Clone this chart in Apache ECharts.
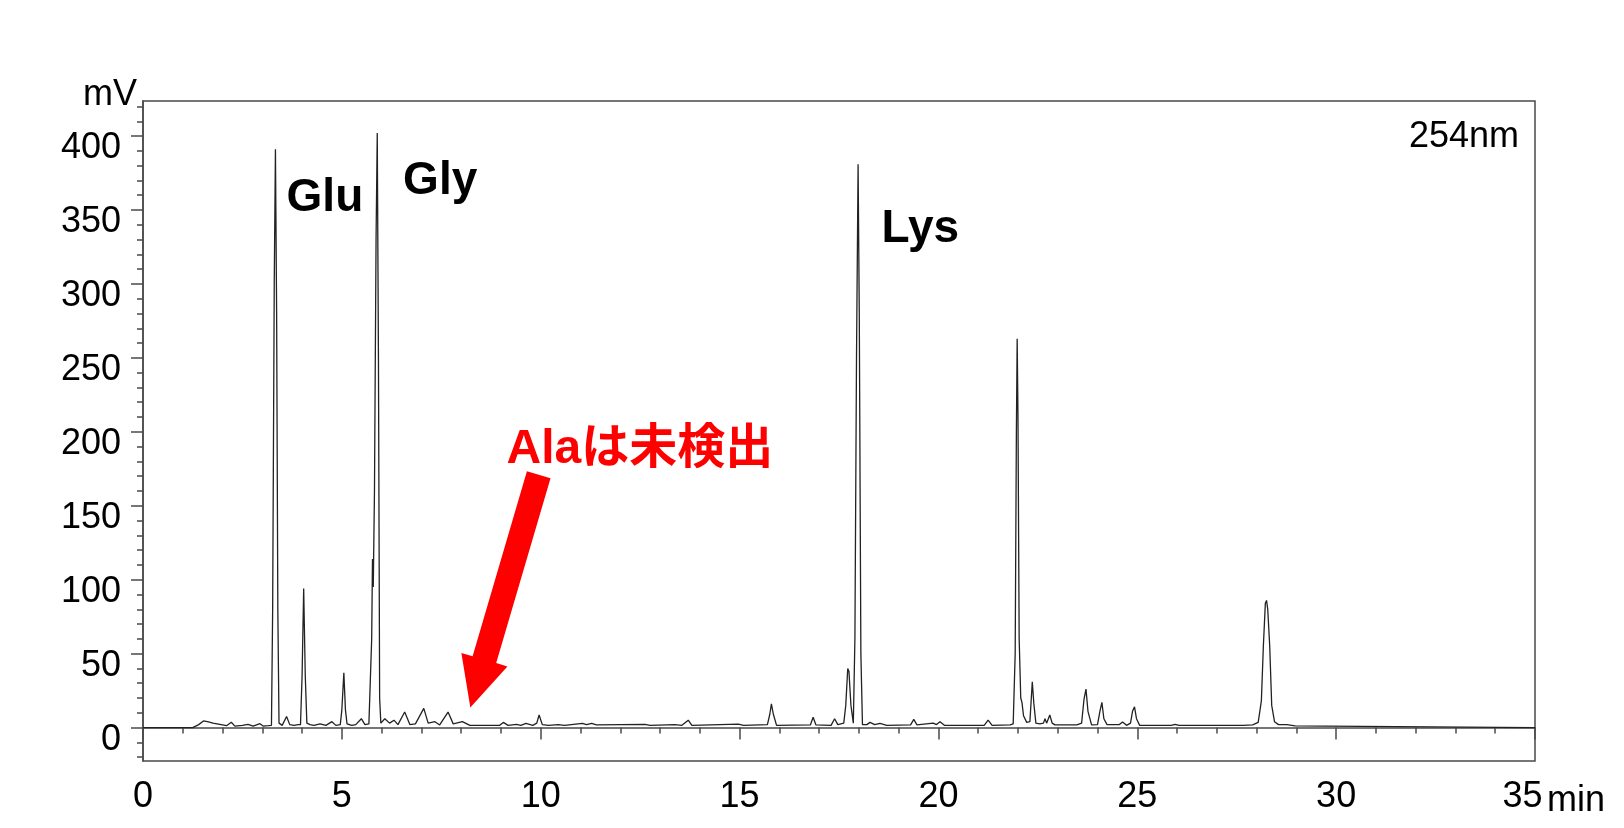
<!DOCTYPE html>
<html>
<head>
<meta charset="utf-8">
<script src="https://cdn.jsdelivr.net/npm/echarts@6/dist/echarts.min.js"></script>
<style>
html,body{margin:0;padding:0;background:#fff;}
#c{width:1624px;height:828px;}
</style>
</head>
<body>
<div id="c"></div>
<script>
// ---- data ----
const traceMin = [
  0, 1.25, 1.40, 1.52, 1.62, 1.76, 1.93, 2.10, 2.22, 2.31, 2.50, 2.64, 2.77, 2.94, 3.02, 3.15,
  3.23, 3.26, 3.30, 3.33, 3.36, 3.39, 3.42, 3.50, 3.61, 3.69, 3.80, 3.90,
  3.96, 4.00, 4.04, 4.08, 4.12, 4.20, 4.30, 4.45, 4.60, 4.75, 4.85, 4.96,
  5.00, 5.05, 5.09, 5.13, 5.25, 5.35, 5.49, 5.58, 5.68,
  5.72, 5.75, 5.77, 5.79, 5.82, 5.86, 5.89, 5.92, 5.95, 5.98,
  6.08, 6.20, 6.31, 6.41, 6.58, 6.71, 6.85, 7.06, 7.17, 7.34, 7.46, 7.67, 7.80, 8.03, 8.22,
  8.97, 9.06, 9.18, 9.39, 9.50, 9.63, 9.80, 9.90, 9.96, 10.04, 10.20, 10.44, 10.60,
  11.05, 11.15, 11.28, 11.40, 12.62, 12.75, 13.37, 13.55, 13.71, 13.80, 14.97, 15.10,
  15.70, 15.76, 15.80, 15.85, 15.93, 16.78, 16.85, 16.92, 17.30, 17.39, 17.47,
  17.62, 17.67, 17.72, 17.75, 17.80, 17.86, 17.90, 17.94, 17.98, 18.01, 18.05, 18.09,
  18.20, 18.28, 18.40, 18.53, 18.70, 19.30, 19.38, 19.46, 19.87, 19.95, 20.04, 20.15,
  21.15, 21.25, 21.35, 21.80, 21.88, 21.93, 21.96, 21.98, 22.00, 22.03, 22.07, 22.10, 22.14,
  22.22, 22.30, 22.36, 22.40, 22.45, 22.55, 22.64, 22.68, 22.72, 22.80, 22.86, 22.93,
  23.48, 23.60, 23.66, 23.71, 23.76, 23.85, 24.00, 24.06, 24.11, 24.16, 24.24,
  24.55, 24.63, 24.73, 24.83, 24.88, 24.93, 24.98, 25.06, 25.85, 25.95, 26.05,
  27.66, 27.90, 28.04, 28.12, 28.17, 28.22, 28.25, 28.28, 28.33, 28.38, 28.45, 28.55,
  28.76, 28.97, 29.75, 29.80, 35
];
const traceMV = [
  0, 0, 2, 4.5, 4, 3, 2.2, 1.3, 3.6, 1, 1.5, 2.2, 1, 2.6, 1, 1.3,
  1.5, 80, 300, 391, 280, 80, 3, 1.5, 7.5, 2, 1.5, 2,
  2, 35, 94, 35, 3, 2, 1.5, 2.5, 1.5, 4, 1.5, 2,
  12, 37, 12, 2.5, 1.5, 2, 6, 2, 2.5,
  3, 60, 114, 95, 160, 330, 402, 250, 20, 3,
  6, 3, 5, 2, 10.5, 2, 2.5, 13, 3, 4, 1.8, 10.5, 2.5, 4, 1.5,
  1.5, 3.5, 1.5, 2.2, 1.5, 2.8, 1.5, 3, 8.5, 2, 1.5, 2, 1.5,
  2.8, 2, 2.8, 1.8, 2.2, 1.5, 2, 1.5, 5, 1.5, 2.3, 1.5,
  2, 9, 16, 9, 1.5, 1.8, 7, 1.8, 1.5, 6, 2,
  3, 15, 40, 38, 15, 3, 60, 250, 381, 280, 50, 2,
  2, 3.5, 2, 2.8, 1.5, 1.8, 5.5, 1.8, 3, 2, 4, 1.5,
  1.5, 5, 1.5, 1.8, 2.5, 50, 200, 263, 210, 60, 20, 17, 8,
  3.5, 4, 31, 16, 3, 2.5, 3, 6, 3, 8.5, 3, 1.8,
  1.8, 3, 19, 26, 11, 1.8, 2, 11, 17, 6, 2,
  2, 3.8, 1.5, 3, 11, 14, 6, 1.5, 1.5, 2.2, 1.5,
  1.5, 1.8, 3.5, 18, 55, 84, 86, 80, 55, 15, 4, 2,
  2, 1.2, 1, 0, 0
];

// axis ticks / labels
const xMajorTicks = [0, 5, 10, 15, 20, 25, 30, 35];
const xMinorTicks = [0,1,2,3,4,5,6,7,8,9,10,11,12,13,14,15,16,17,18,19,20,21,22,23,24,25,26,27,28,29,30,31,32,33,34,35];
const yMajorTicks = [0, 50, 100, 150, 200, 250, 300, 350, 400];
const yMinorTicks = [-20,-10,0,10,20,30,40,50,60,70,80,90,100,110,120,130,140,150,160,170,180,190,200,210,220,230,240,250,260,270,280,290,300,310,320,330,340,350,360,370,380,390,400,410,420];

// annotations (in data coordinates)
const peakLabels = [
  { text: 'Glu', x: 3.61, y: 357.8 },
  { text: 'Gly', x: 6.54, y: 369.6 },
  { text: 'Lys', x: 18.57, y: 336.9 }
];
const noteText = 'Alaは未検出';
const notePos = { x: 9.14, y: 188 };
const arrowTail = [9.95, 171];
const arrowTip = [8.23, 13.5];
const wavelength = '254nm';
const xName = 'min';
const yName = 'mV';

const X_MIN = 0, X_MAX = 35, Y_MIN = -22.6, Y_MAX = 423.7;

// ---- chart ----
const chart = echarts.init(document.getElementById('c'), null, { renderer: 'canvas' });
const FONT = '"Liberation Sans", Arial, "Noto Sans CJK JP", sans-serif';
const AX = '#4a4a4a';
const GRID = { left: 143, top: 101, width: 1392, height: 660 };

const data = traceMin.map((t, i) => [t, traceMV[i]]);

const option = {
  animation: false,
  backgroundColor: '#fff',
  grid: {
    left: GRID.left, top: GRID.top, width: GRID.width, height: GRID.height,
    show: true, borderColor: AX, borderWidth: 1.5, backgroundColor: 'transparent'
  },
  xAxis: [
    {
      type: 'value', min: X_MIN, max: X_MAX, position: 'bottom',
      axisLine: { show: true, lineStyle: { color: AX, width: 1.5 } },
      axisTick: { show: true, customValues: xMajorTicks, length: 12, lineStyle: { color: AX, width: 1.5 } },
      axisLabel: {
        show: true, customValues: xMajorTicks, margin: 18, color: '#000',
        fontSize: 36, fontFamily: FONT,
        formatter: v => (v === 35 ? '{r|35}' : String(v)),
        rich: { r: { fontSize: 36, fontFamily: FONT, color: '#000', padding: [0, 25, 0, 0] } }
      },
      splitLine: { show: false }
    },
    {
      type: 'value', min: X_MIN, max: X_MAX, position: 'bottom', offset: 0,
      axisLine: { show: false },
      axisTick: { show: true, customValues: xMinorTicks, length: 6, lineStyle: { color: AX, width: 1.5 } },
      axisLabel: { show: false },
      splitLine: { show: false }
    }
  ],
  yAxis: [
    {
      type: 'value', min: Y_MIN, max: Y_MAX, position: 'left',
      axisLine: { show: true, lineStyle: { color: AX, width: 1.5 } },
      axisTick: { show: true, customValues: yMajorTicks, length: 12, lineStyle: { color: AX, width: 1.5 } },
      axisLabel: {
        show: true, customValues: yMajorTicks, margin: 22, color: '#000',
        fontSize: 36, fontFamily: FONT,
        formatter: v => '{a|' + v + '}',
        rich: { a: { fontSize: 36, fontFamily: FONT, color: '#000', padding: [24, 0, 0, 0] } }
      },
      splitLine: { show: false }
    },
    {
      type: 'value', min: Y_MIN, max: Y_MAX, position: 'left', offset: 0,
      axisLine: { show: false },
      axisTick: { show: true, customValues: yMinorTicks, length: 6, lineStyle: { color: AX, width: 1.5 } },
      axisLabel: { show: false },
      splitLine: { show: false }
    }
  ],
  series: [
    {
      type: 'line', xAxisIndex: 0, yAxisIndex: 0, data: data,
      showSymbol: false, symbol: 'none', smooth: false,
      lineStyle: { color: '#222', width: 1.3 },
      silent: true
    }
  ]
};
chart.setOption(option);

function px(x, y) { return chart.convertToPixel({ xAxisIndex: 0, yAxisIndex: 0 }, [x, y]); }

function txt(text, x, y, font, fill, align) {
  return {
    type: 'text', z: 100,
    style: { text: text, x: x, y: y, font: font, fill: fill,
             align: align, textAlign: align, verticalAlign: 'middle', textVerticalAlign: 'middle' }
  };
}

const graphics = [];
peakLabels.forEach(p => {
  const q = px(p.x, p.y);
  graphics.push(txt(p.text, q[0], q[1], 'bold 46px ' + FONT, '#000', 'left'));
});
const np = px(notePos.x, notePos.y);
graphics.push(txt(noteText, np[0], np[1], 'bold 48px ' + FONT, '#ff0000', 'left'));

// arrow polygon built in pixel space from data-space endpoints
(function () {
  const T = px(arrowTail[0], arrowTail[1]);
  const P = px(arrowTip[0], arrowTip[1]);
  const dx = P[0] - T[0], dy = P[1] - T[1];
  const L = Math.sqrt(dx * dx + dy * dy);
  const ux = dx / L, uy = dy / L;
  const nx = -uy, ny = ux;
  const hw = 12.3, headW = 24, headL = 50;
  const B = [P[0] - ux * headL, P[1] - uy * headL];
  const pts = [
    [T[0] + nx * hw, T[1] + ny * hw],
    [B[0] + nx * hw, B[1] + ny * hw],
    [B[0] + nx * headW, B[1] + ny * headW],
    [P[0], P[1]],
    [B[0] - nx * headW, B[1] - ny * headW],
    [B[0] - nx * hw, B[1] - ny * hw],
    [T[0] - nx * hw, T[1] - ny * hw]
  ];
  graphics.push({ type: 'polygon', z: 90, shape: { points: pts }, style: { fill: '#ff0000' } });
})();

// corner texts
graphics.push(txt(wavelength, GRID.left + GRID.width - 16, GRID.top + 36, '36px ' + FONT, '#000', 'right'));
graphics.push(txt(yName, GRID.left - 6, GRID.top - 6, '36px ' + FONT, '#000', 'right'));
graphics.push(txt(xName, GRID.left + GRID.width + 12, GRID.top + GRID.height + 40, '36px ' + FONT, '#000', 'left'));

chart.setOption({ graphic: graphics });
</script>
</body>
</html>
